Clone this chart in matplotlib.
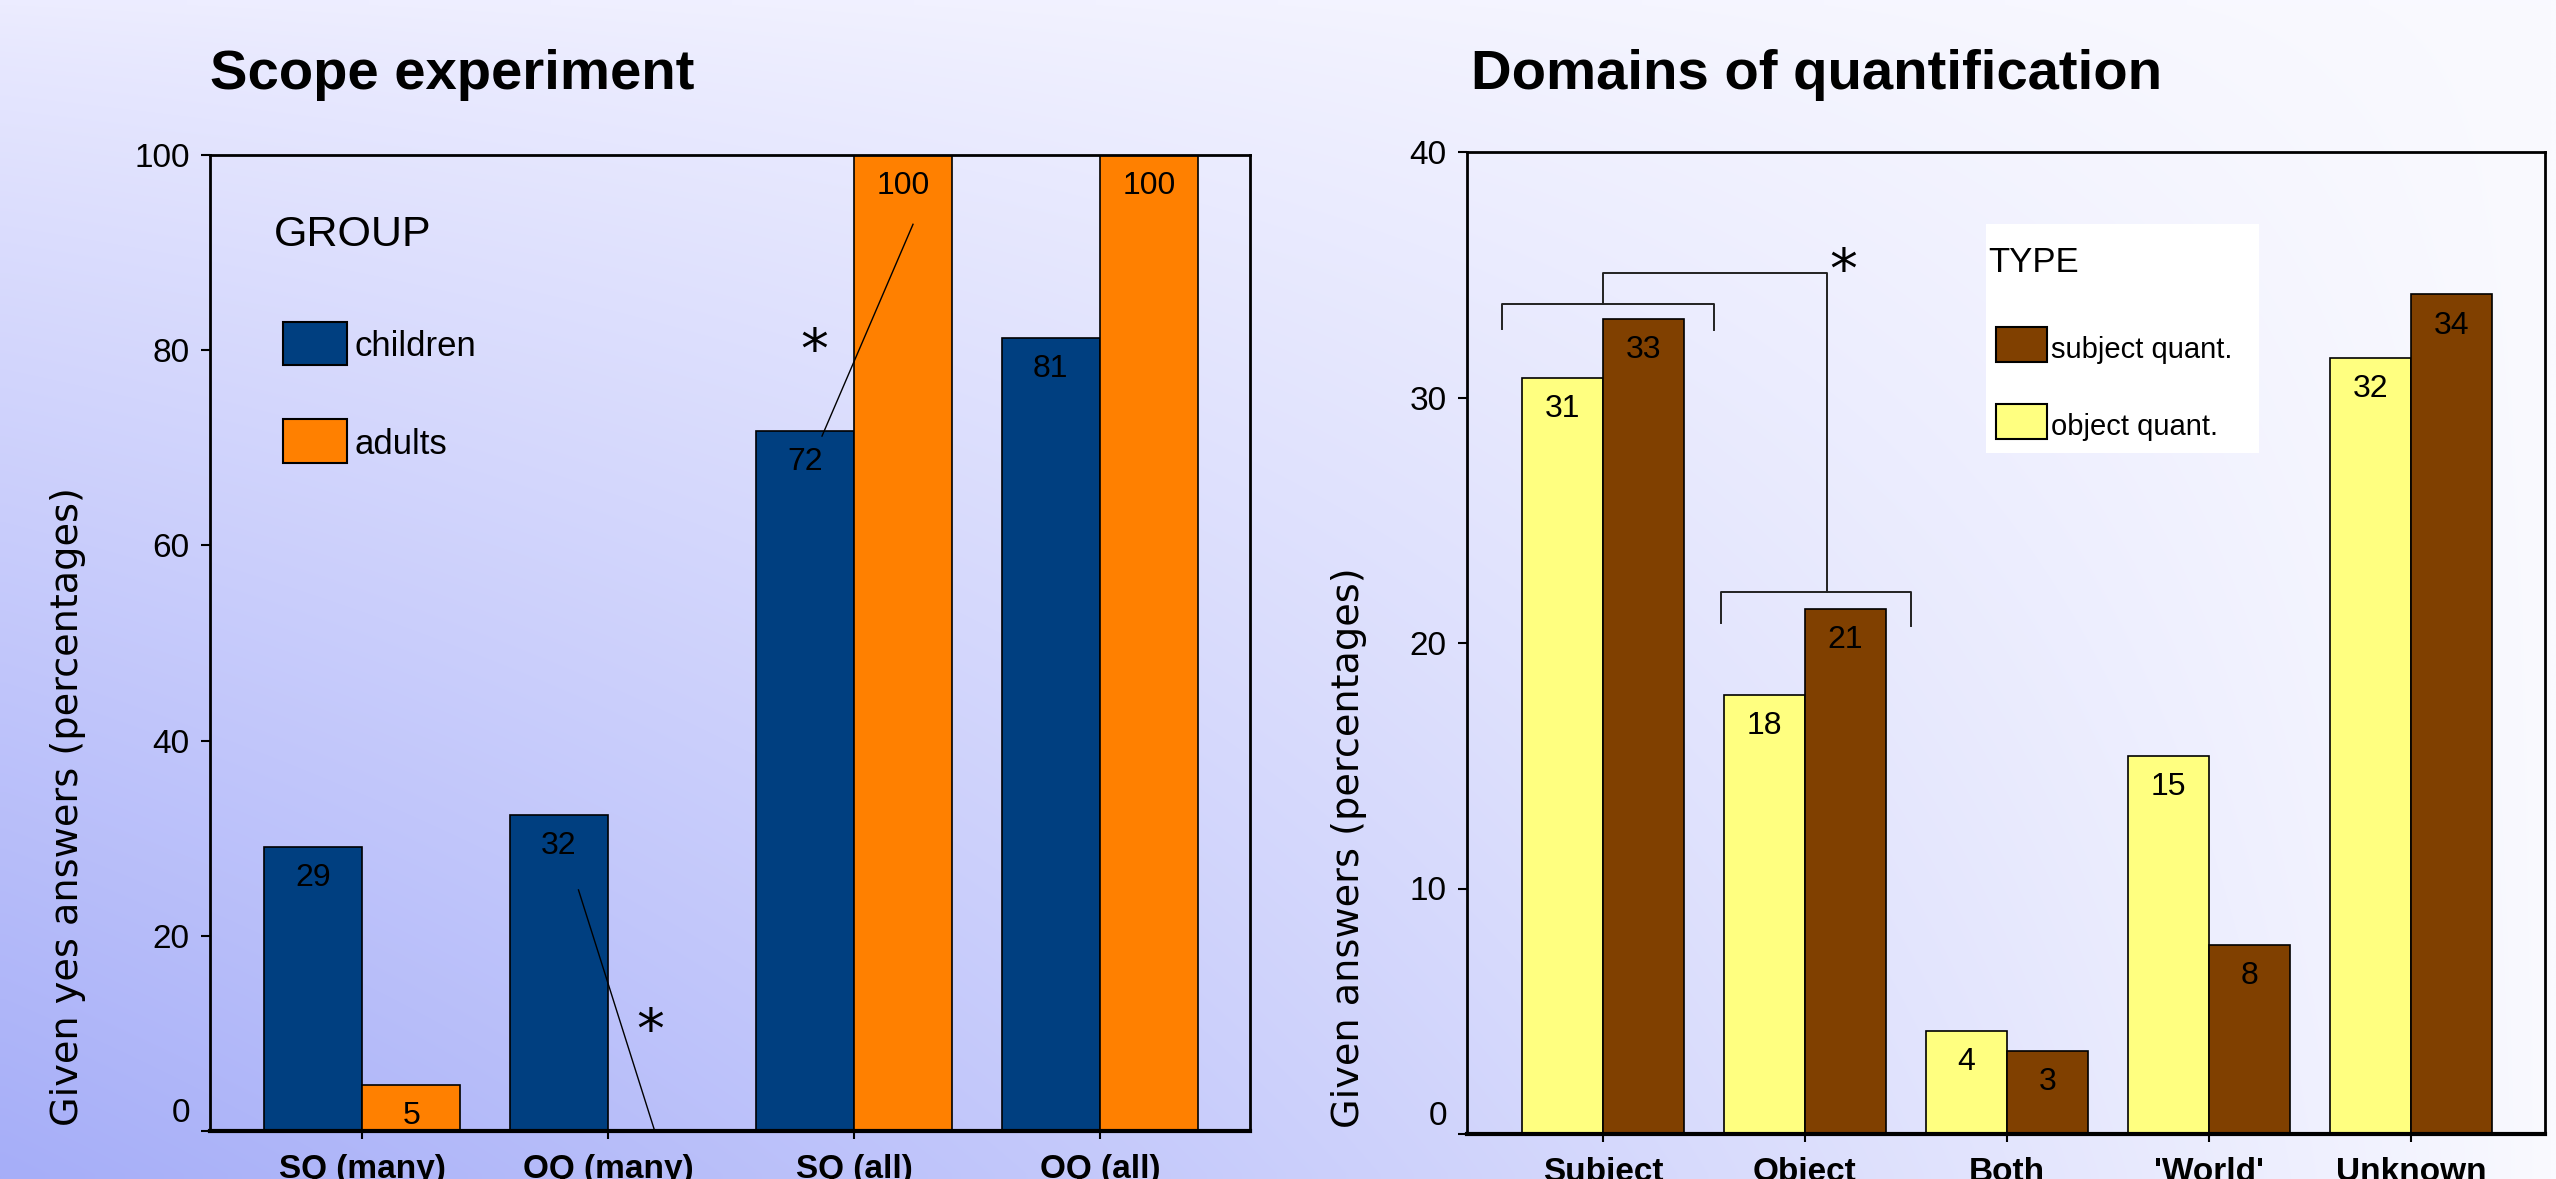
import matplotlib
matplotlib.use('Agg')
import matplotlib.pyplot as plt
import numpy as np
from matplotlib.patches import Rectangle
from matplotlib.transforms import ScaledTranslation

W, H = 2556, 1179
DPI = 100

# left chart: scope experiment (percent yes answers)
scope_cats = ['SQ (many)', 'OQ (many)', 'SQ (all)', 'OQ (all)']
children = [29.1, 32.4, 71.7, 81.3]
adults = [4.7, 0, 100, 100]

# right chart: domains of quantification (percent answers)
domain_cats = ['Subject', 'Object', 'Both', "'World'", 'Unknown']
object_quant = [30.8, 17.9, 4.2, 15.4, 31.6]
subject_quant = [33.2, 21.4, 3.4, 7.7, 34.2]

BLUE = '#003f80'
ORANGE = '#ff8000'
YELLOW = '#ffff80'
BROWN = '#804000'

plt.rcParams['font.family'] = ['Liberation Sans', 'DejaVu Sans']


def frac(x, y):
    # figure pixel (from top-left) -> figure fraction
    return x / W, 1 - y / H


def axes_rect(l, t, r, b):
    return [l / W, 1 - b / H, (r - l) / W, (b - t) / H]


fig = plt.figure(figsize=(W / DPI, H / DPI), dpi=DPI)

# gradient background, blue in the lower left fading to white on the right
gx, gy = np.meshgrid(np.linspace(0, 1, 256), np.linspace(0, 1, 118))
top_l = np.array([236, 236, 255]) / 255
top_r = np.array([250, 250, 255]) / 255
blue = np.array([166, 174, 248]) / 255
base = top_l + (top_r - top_l) * gx[..., None]
w = (gy ** 0.85 * (1 - gx) ** 0.9)[..., None]
grad = base + (blue - base) * w
bg = fig.add_axes([0, 0, 1, 1], zorder=-5)
bg.imshow(grad, aspect='auto', extent=(0, 1, 0, 1), interpolation='bilinear')
bg.axis('off')

ax1 = fig.add_axes(axes_rect(210, 155, 1250, 1131))
ax2 = fig.add_axes(axes_rect(1467, 152, 2545, 1134))


def style(ax):
    ax.set_facecolor('none')
    for side in ['left', 'top', 'right']:
        ax.spines[side].set_linewidth(2)
    ax.spines['bottom'].set_linewidth(3)
    ax.tick_params(axis='y', length=6.5, width=1.5, pad=8, labelsize=24)
    ax.tick_params(axis='x', length=6, width=1.5, pad=10.5, labelsize=24)


def value_labels(ax, xs, vals):
    for xv, v in zip(xs, vals):
        if v > 0:
            ax.annotate(f'{v:.0f}', (xv, v), xytext=(0, -22.5),
                        textcoords='offset points', ha='center', va='center',
                        fontsize=23)


def star(ax, x, y):
    ax.annotate('*', (x, y), xytext=(0, -22), textcoords='offset points',
                ha='center', va='baseline', fontsize=40, family='DejaVu Sans')


def lift_zero(ax):
    t = ax.yaxis.get_major_ticks()[0]
    t.label1.set_transform(t.label1.get_transform() +
                           ScaledTranslation(0, 21 / DPI, fig.dpi_scale_trans))


# ---- scope experiment ----
x1 = np.arange(len(scope_cats))
bw = 0.4
ax1.bar(x1 - bw / 2, children, bw, color=BLUE, edgecolor='black', linewidth=1.2)
ax1.bar(x1 + bw / 2, adults, bw, color=ORANGE, edgecolor='black', linewidth=1.2)
value_labels(ax1, x1 - bw / 2, children)
value_labels(ax1, x1 + bw / 2, adults)
ax1.set_xlim(-0.618, 3.61)
ax1.set_ylim(0, 100)
ax1.set_yticks(range(0, 101, 20))
ax1.set_xticks(x1, scope_cats, fontweight='bold')
style(ax1)
lift_zero(ax1)

ax1.plot([2.24, 1.87], [92.9, 71.2], color='black', lw=1)
star(ax1, 1.84, 81.3)
ax1.plot([0.88, 1.19], [24.7, 0], color='black', lw=1, clip_on=False)
star(ax1, 1.17, 11.6)

# legend
ax1.text(*frac(274, 235), 'GROUP', transform=fig.transFigure, fontsize=31,
         va='center', ha='left')
for (top, bot, col, lab, ty) in [(322, 365, BLUE, 'children', 346),
                                 (419, 463, ORANGE, 'adults', 444)]:
    ax1.add_patch(Rectangle(frac(283, bot), 64 / W, (bot - top) / H,
                            transform=fig.transFigure, facecolor=col,
                            edgecolor='black', lw=1.5))
    ax1.text(*frac(355, ty), lab, transform=fig.transFigure, fontsize=25,
             va='center', ha='left')

# ---- domains of quantification ----
x2 = np.arange(len(domain_cats))
ax2.bar(x2 - bw / 2, object_quant, bw, color=YELLOW, edgecolor='black', linewidth=1.2)
ax2.bar(x2 + bw / 2, subject_quant, bw, color=BROWN, edgecolor='black', linewidth=1.2)
value_labels(ax2, x2 - bw / 2, object_quant)
value_labels(ax2, x2 + bw / 2, subject_quant)
ax2.set_xlim(-0.673, 4.663)
ax2.set_ylim(0, 40)
ax2.set_yticks(range(0, 41, 10))
ax2.set_xticks(x2, domain_cats, fontweight='bold')
style(ax2)
lift_zero(ax2)

bc = '#222222'
ax2.plot([-0.5, -0.5, 0.55, 0.55], [32.8, 33.8, 33.8, 32.75], color=bc, lw=1.4)
ax2.plot([0, 0, 1.11, 1.11], [33.8, 35.07, 35.07, 22.08], color=bc, lw=1.4)
ax2.plot([0.584, 0.584, 1.525, 1.525], [20.8, 22.08, 22.08, 20.7], color=bc, lw=1.4)
star(ax2, 1.19, 35.7)

# legend
ax2.add_patch(Rectangle(frac(1986, 453), (2259 - 1986) / W, (453 - 224) / H,
                        transform=fig.transFigure, facecolor='white',
                        edgecolor='none'))
ax2.text(*frac(1988, 262), 'TYPE', transform=fig.transFigure, fontsize=25,
         va='center', ha='left')
for (top, bot, col, lab, ty) in [(327, 362, BROWN, 'subject quant.', 350),
                                 (404, 439, YELLOW, 'object quant.', 427)]:
    ax2.add_patch(Rectangle(frac(1996, bot), 51 / W, (bot - top) / H,
                            transform=fig.transFigure, facecolor=col,
                            edgecolor='black', lw=1.5))
    ax2.text(*frac(2051, ty), lab, transform=fig.transFigure, fontsize=21,
             va='center', ha='left')

# titles and axis labels
fig.text(*frac(210, 75), 'Scope experiment', fontsize=40.5, fontweight='bold',
         va='center', ha='left')
fig.text(*frac(1471, 75), 'Domains of quantification', fontsize=40.5,
         fontweight='bold', va='center', ha='left')
fig.text(*frac(68, 807), 'Given yes answers (percentages)', rotation=90,
         ha='center', va='center', family='DejaVu Sans', fontsize=27.5)
fig.text(*frac(1349, 848), 'Given answers (percentages)', rotation=90,
         ha='center', va='center', family='DejaVu Sans', fontsize=27.5)

fig.savefig('out.png', dpi=DPI)
